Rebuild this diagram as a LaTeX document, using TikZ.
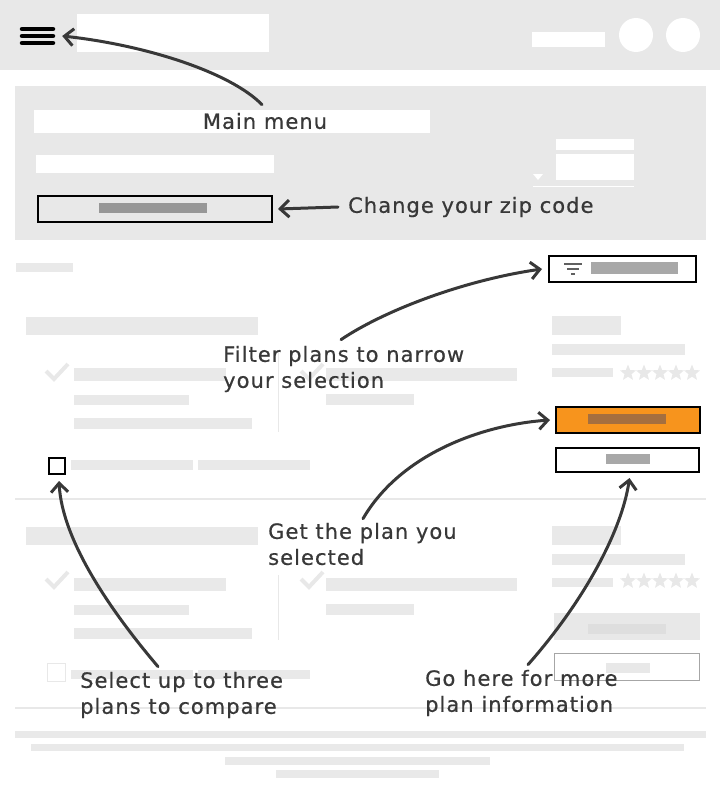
\documentclass[tikz,border=0pt]{standalone}
\usepackage{fontspec}
\setmainfont{DejaVu Sans}
\newfontfamily\notefont[LetterSpace=5,FakeBold=0.6]{DejaVu Sans}
\usetikzlibrary{arrows.meta}
\usetikzlibrary{shapes.geometric}

\definecolor{panelgray}{HTML}{E8E8E8}
\definecolor{bargray}{HTML}{E9E9E9}
\definecolor{labelgray}{HTML}{A8A8A8}
\definecolor{inkgray}{HTML}{383838}
\definecolor{buyorange}{HTML}{F7941D}
\definecolor{buybar}{HTML}{A56F3F}

\begin{document}
\begin{tikzpicture}[
    x=1pt, y=-1pt,
    bar/.style={fill=bargray},
    white bar/.style={fill=white},
    faint line/.style={draw=panelgray, line width=1.3pt},
    tick mark/.style={draw=panelgray, line width=4pt},
    outlined/.style={draw=black, line width=2pt, inner sep=0pt, anchor=north west},
    note/.style={font={\notefont\fontsize{21}{26}\selectfont}, text=inkgray, align=left, inner sep=0pt},
    note arrow/.style={-{Straight Barb[length=9pt,width=17pt]}, line width=3pt, draw=inkgray, line cap=round},
    star mark/.style={star, star points=5, star point ratio=2.3, fill=panelgray, minimum size=17pt, inner sep=0pt}
    ]

    \useasboundingbox (0,0) rectangle (720,795);

    % header
    \fill[panelgray] (0,0) rectangle (720,70);
    \foreach \y in {29,36,43}
        \draw[line width=4.5pt, line cap=round] (22,\y) -- (53,\y);
    \node[minimum width=35pt, minimum height=20pt, inner sep=0pt] (menuicon) at (37.5,36) {};
    \fill[white] (77,14) rectangle (269,52);
    \fill[white] (532,32) rectangle (605,47);
    \fill[white] (636,35) circle (17);
    \fill[white] (683,35) circle (17);

    % location panel
    \fill[panelgray] (15,86) rectangle (706,240);
    \fill[white bar] (34,110) rectangle (430,133);
    \fill[white bar] (36,155) rectangle (274,173);
    \fill[white bar] (556,139) rectangle (634,150);
    \fill[white bar] (556,154) rectangle (634,180);
    \fill[white] (533,174) -- (543,174) -- (538,180) -- cycle;
    \draw[white, line width=1pt] (533,186) -- (634,186);
    \node[outlined, fill=panelgray, minimum width=234pt, minimum height=26pt] (zipbox) at (37,195) {};
    \fill[labelgray!90!black] (99,203) rectangle (207,213);

    % filter
    \fill[bar] (16,263) rectangle (73,272);
    \node[outlined, fill=white, minimum width=147pt, minimum height=26pt] (filterbox) at (548,255) {};
    \draw[inkgray!80, line width=1.6pt] (564,264) -- (582,264) (567,269) -- (579,269) (571,274) -- (575,274);
    \fill[labelgray] (591,262) rectangle (678,274);

    % first plan
    \fill[bar] (26,317) rectangle (258,335);
    \draw[tick mark] (46,371) -- (54,379) -- (68,364);
    \fill[bar] (74,368) rectangle (226,381);
    \fill[bar] (74,395) rectangle (189,405);
    \fill[bar] (74,418) rectangle (252,429);
    \draw[faint line, line width=1pt] (278,352) -- (278,432);
    \draw[tick mark] (301,371) -- (309,379) -- (323,364);
    \fill[bar] (326,368) rectangle (517,381);
    \fill[bar] (326,394) rectangle (414,405);
    \fill[bar] (552,316) rectangle (621,335);
    \fill[bar] (552,344) rectangle (685,355);
    \fill[bar] (552,368) rectangle (613,377);
    \foreach \i in {0,...,4}
        \node[star mark] at (628+\i*16,373) {};
    \node[outlined, fill=buyorange, minimum width=144pt, minimum height=26pt] (buybtn) at (555,406) {};
    \fill[buybar] (588,414) rectangle (666,424);
    \node[outlined, fill=white, minimum width=143pt, minimum height=24pt] (morebtn) at (555,447) {};
    \fill[labelgray] (606,454) rectangle (650,464);
    \node[outlined, fill=white, minimum width=16pt, minimum height=16pt] (comparebox) at (48,457) {};
    \fill[bar] (71,460) rectangle (193,470);
    \fill[bar] (198,460) rectangle (310,470);
    \draw[faint line] (15,499) -- (706,499);

    % second plan
    \fill[bar] (26,527) rectangle (258,545);
    \draw[tick mark] (46,579) -- (54,587) -- (68,572);
    \fill[bar] (74,578) rectangle (226,591);
    \fill[bar] (74,605) rectangle (189,615);
    \fill[bar] (74,628) rectangle (252,639);
    \draw[faint line, line width=1pt] (278,575) -- (278,640);
    \draw[tick mark] (301,579) -- (309,587) -- (323,572);
    \fill[bar] (326,578) rectangle (517,591);
    \fill[bar] (326,604) rectangle (414,615);
    \fill[bar] (552,526) rectangle (621,545);
    \fill[bar] (552,554) rectangle (685,565);
    \fill[bar] (552,578) rectangle (613,587);
    \foreach \i in {0,...,4}
        \node[star mark] at (628+\i*16,581) {};
    \fill[panelgray] (554,613) rectangle (700,640);
    \fill[black!13] (588,624) rectangle (666,634);
    \draw[black!35, line width=0.8pt] (554,653) rectangle (699,680);
    \fill[panelgray] (606,663) rectangle (650,673);
    \draw[panelgray, line width=1pt] (47,663) rectangle (65,681);
    \fill[bar] (71,670) rectangle (193,679);
    \fill[bar] (198,670) rectangle (310,679);
    \draw[faint line] (15,708) -- (706,708);

    % footer
    \fill[bar] (15,731) rectangle (706,738);
    \fill[bar] (31,744) rectangle (684,751);
    \fill[bar] (225,757) rectangle (490,765);
    \fill[bar] (276,770) rectangle (439,778);

    % notes
    \node[note] (menunote) at (265,121) {Main menu};
    \node[note, anchor=west] (zipnote) at (348,207) {Change your zip code};
    \node[note, anchor=west] (filternote) at (223,369) {Filter plans to narrow\\your selection};
    \node[note, anchor=west] (getnote) at (268,544) {Get the plan you\\selected};
    \node[note, anchor=west] (selectnote) at (80,695) {Select up to three\\plans to compare};
    \node[note, anchor=west] (infonote) at (425,693) {Go here for more\\plan information};

    % arrows
    \draw[note arrow] ([xshift=-3pt,yshift=8pt]menunote.north) .. controls (230,72) and (145,45) .. ([xshift=7pt]menuicon.east);
    \draw[note arrow] ([xshift=-10pt]zipnote.west) -- ([xshift=5pt]zipbox.east);
    \draw[note arrow] ([xshift=118pt,yshift=6pt]filternote.north west) .. controls (385,310) and (465,280) .. ([xshift=-6pt]filterbox.west);
    \draw[note arrow] ([xshift=95pt,yshift=4pt]getnote.north west) .. controls (400,455) and (480,425) .. ([xshift=-5pt]buybtn.west);
    \draw[note arrow] ([xshift=78pt,yshift=5pt]selectnote.north west) .. controls (110,610) and (62,540) .. ([xshift=2pt,yshift=-6pt]comparebox.south);
    \draw[note arrow] ([xshift=103pt,yshift=5pt]infonote.north west) .. controls (585,600) and (622,530) .. ([xshift=2pt,yshift=-5pt]morebtn.south);

\end{tikzpicture}
\end{document}
